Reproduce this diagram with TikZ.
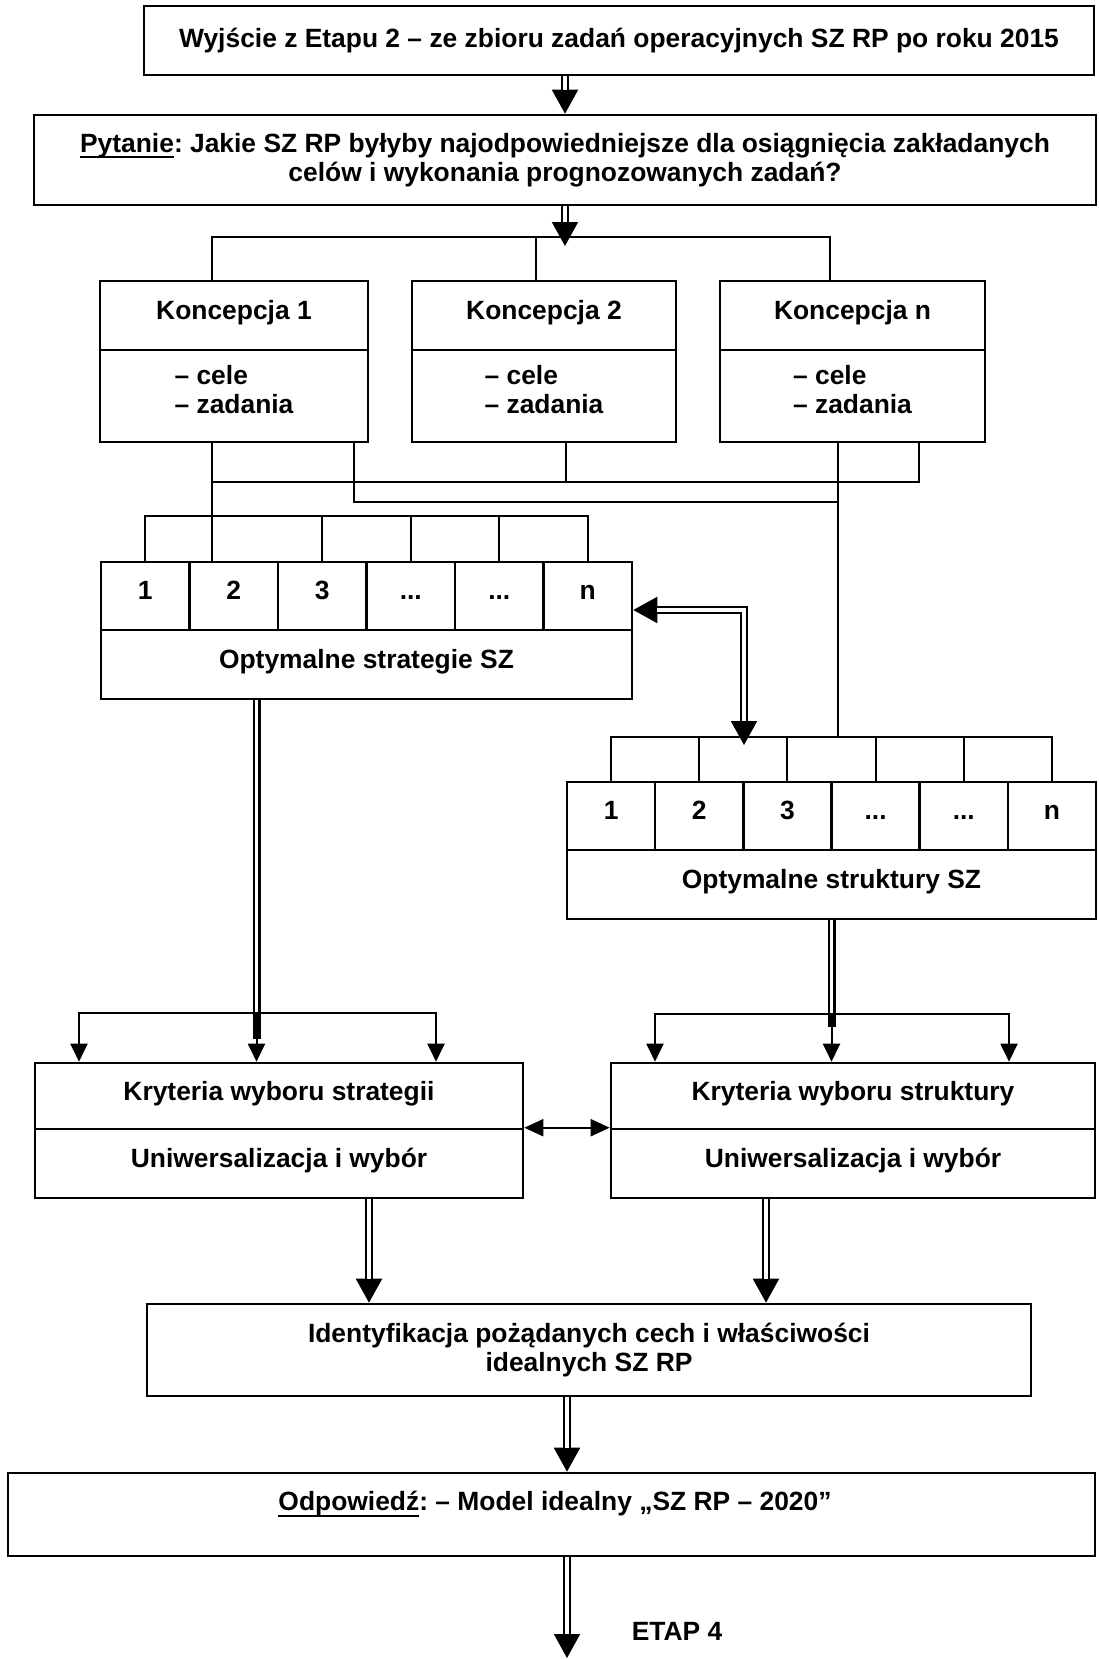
\documentclass[tikz,border=0pt]{standalone}
\usepackage{fontspec}
\setmainfont{Liberation Sans}
\usetikzlibrary{arrows.meta}
\frenchspacing
\newcommand{\celldots}{...}
% underlined word with a rule just below the descenders
\newcommand{\ulword}[1]{\leavevmode\setbox0\hbox{#1}\rlap{\rule[-2.8pt]{\wd0}{0.8pt}}\box0}
\begin{document}
\begin{tikzpicture}[x=0.5pt,y=-0.5pt,
  every node/.style={font=\fontsize{13.2}{14.5}\selectfont\bfseries, inner sep=0pt, align=center},
  box/.style={draw, line width=1.3pt},
  raised/.style={text height=9.5pt, text depth=5.5pt},
  cell/.style={box, text height=9.5pt, text depth=6pt},
  conn/.style={line width=1pt},
  dbl/.style={double, double distance=1.8pt, line width=1.1pt},
  dblarrow/.style={conn, -{Triangle[length=12pt,width=13pt]},
    postaction={draw, arrows=-, dbl, shorten >=12pt}},
  dblboth/.style={conn, {Triangle[length=12pt,width=13pt]}-{Triangle[length=12pt,width=13pt]},
    postaction={draw, arrows=-, dbl, shorten >=12pt, shorten <=12pt}},
  tip/.style={conn, -{Triangle[length=9pt,width=8.5pt]}},
  tipboth/.style={conn, {Triangle[length=9.5pt,width=8.5pt]}-{Triangle[length=9.5pt,width=8.5pt]}},
]
\useasboundingbox (0,0) rectangle (1098,1659);

% --- top boxes ---
\node[box, minimum width=475pt, minimum height=34.5pt] (b1) at (619,40.5)
  {Wyjście z Etapu 2 – ze zbioru zadań operacyjnych SZ RP po roku 2015};
\node[box, minimum width=531pt, minimum height=45pt] (b2) at (565,160)
  {\ulword{Pytanie}: Jakie SZ RP byłyby najodpowiedniejsze dla osiągnięcia zakładanych\\celów i wykonania prognozowanych zadań?};

% --- concepts ---
\node[box, raised, minimum width=134pt, minimum height=34.5pt] (k1t) at (234,315.5) {Koncepcja 1};
\node[box, minimum width=134pt, minimum height=46pt] (k1b) at (234,396) {};
\node[align=left] (k1l) at (234,390) {– cele\\– zadania};
\node[box, raised, minimum width=132pt, minimum height=34.5pt] (k2t) at (544,315.5) {Koncepcja 2};
\node[box, minimum width=132pt, minimum height=46pt] (k2b) at (544,396) {};
\node[align=left] (k2l) at (544,390) {– cele\\– zadania};
\node[box, raised, minimum width=132.5pt, minimum height=34.5pt] (knt) at (852.5,315.5) {Koncepcja n};
\node[box, minimum width=132.5pt, minimum height=46pt] (knb) at (852.5,396) {};
\node[align=left] (knl) at (852.5,390) {– cele\\– zadania};

% --- strategies table ---
\foreach \i/\t in {1/1,2/2,3/3,4/\celldots,5/\celldots,6/n}
  \node[cell, minimum width=44.25pt, minimum height=34pt] (s\i) at ({101+88.5*(\i-0.5)},596) {\t};
\node[box, raised, minimum width=265.5pt, minimum height=34.5pt] (sb) at (366.5,664.5) {Optymalne strategie SZ};

% --- structures table ---
\foreach \i/\t in {1/1,2/2,3/3,4/\celldots,5/\celldots,6/n}
  \node[cell, minimum width=44.08pt, minimum height=34pt] (t\i) at ({567+88.17*(\i-0.5)},816) {\t};
\node[box, raised, minimum width=264.5pt, minimum height=34.5pt] (tb) at (831.5,884.5) {Optymalne struktury SZ};

% --- criteria ---
\node[box, raised, minimum width=244pt, minimum height=33pt] (klt) at (279,1096) {Kryteria wyboru strategii};
\node[box, raised, minimum width=244pt, minimum height=34.5pt] (klb) at (279,1163.5) {Uniwersalizacja i wybór};
\node[box, raised, minimum width=242pt, minimum height=33pt] (krt) at (853,1096) {Kryteria wyboru struktury};
\node[box, raised, minimum width=242pt, minimum height=34.5pt] (krb) at (853,1163.5) {Uniwersalizacja i wybór};

% --- result ---
\node[box, minimum width=442pt, minimum height=46pt] (id) at (589,1350)
  {Identyfikacja pożądanych cech i właściwości\\idealnych SZ RP};
\node[box, minimum width=543.5pt, minimum height=41.5pt] (odp) at (551.5,1514.5) {};
\node (odptxt) at (555,1504) {\ulword{Odpowiedź}: – Model idealny „SZ RP – 2020”};
\node (etap) at (677,1631) {ETAP 4};

% --- junction points ---
\coordinate (jt) at (565,237);
\coordinate (jtip) at (565,246);
\coordinate (jm) at (566,482);
\coordinate (jl) at (838,502);
\coordinate (cs) at (366,516);
\coordinate (ct) at (831,737);
\coordinate (tc) at (744,745);
\coordinate (bl) at (256.5,1013);
\coordinate (blx) at (256.5,1039);
\coordinate (br) at (831.5,1014);
\coordinate (brx) at (831.5,1027);
\coordinate (end) at (567,1658);

% --- connectors: top ---
\draw[dblarrow] (b2.north |- b1.south) -- (b2.north);
\draw[dblarrow] (b2.south) -- (jtip);
\draw[conn] ([xshift=-11pt]k1t.north) |- (jt) -| ([xshift=-11.25pt]knt.north);
\draw[conn] ([xshift=-4pt]k2t.north) -- ([xshift=-4pt]k2t.north |- jt);

% --- connectors: concepts to tables ---
\draw[conn] ([xshift=-11pt]k1b.south) -- ([xshift=-11pt]k1b.south |- s2.north);
\draw[conn] ([xshift=11pt]k2b.south) -- (jm);
\draw[conn] ([xshift=-11pt]k1b.south |- jm) -| ([xshift=33.25pt]knb.south);
\draw[conn] ([xshift=60pt]k1b.south) |- (jl);
\draw[conn] ([xshift=-7.25pt]knb.south) -- ([xshift=-7.25pt]knb.south |- ct);

% --- combs ---
\draw[conn] (s1.north) |- (s6.north |- cs) -- (s6.north);
\foreach \i in {3,4,5} \draw[conn] (s\i.north) -- (s\i.north |- cs);
\draw[conn] (t1.north) |- (t6.north |- ct) -- (t6.north);
\foreach \i in {2,3,4,5} \draw[conn] (t\i.north) -- (t\i.north |- ct);

% --- link between the tables ---
\draw[dblboth] ([yshift=-7pt]s6.east) -| (tc);

% --- branches into criteria ---
\draw[dbl] ([xshift=-55pt]sb.south) -- (bl);
\draw[line width=4pt] (bl) -- (blx);
\draw[tip] (bl) -- (bl |- klt.north);
\draw[tip] (bl) -| ([xshift=-100pt]klt.north);
\draw[tip] (bl) -| ([xshift=78.5pt]klt.north);

\draw[dbl] (tb.south) -- (br);
\draw[line width=4pt] (br) -- (brx);
\draw[tip] (br) -- (br |- krt.north);
\draw[tip] (br) -| ([xshift=-99pt]krt.north);
\draw[tip] (br) -| ([xshift=78pt]krt.north);

\draw[tipboth] (klb.north east) -- (krb.north west);

% --- down to the answer ---
\draw[dblarrow] ([xshift=45pt]klb.south) -- ([xshift=45pt]klb.south |- id.north);
\draw[dblarrow] ([xshift=-43.5pt]krb.south) -- ([xshift=-43.5pt]krb.south |- id.north);
\draw[dblarrow] ([xshift=-11pt]id.south) -- ([xshift=-11pt]id.south |- odp.north);
\draw[dblarrow] (odp.south -| end) -- (end);
\end{tikzpicture}
\end{document}
